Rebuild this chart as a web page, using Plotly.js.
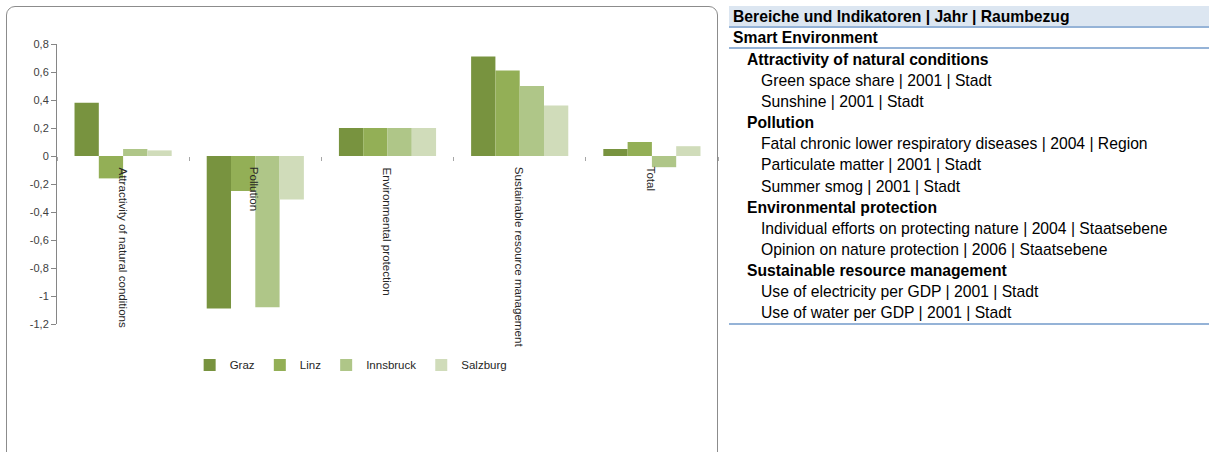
<!DOCTYPE html>
<html>
<head>
<meta charset="utf-8">
<script src="https://cdn.plot.ly/plotly-3.0.1.min.js"></script>
<style>
  html, body { margin: 0; padding: 0; background: #ffffff; }
  #wrap { position: relative; width: 1209px; height: 452px; overflow: hidden; }
  #frame { position: absolute; left: 6px; top: 6px; width: 712px; height: 470px;
           border: 1px solid #8c8c8c; border-radius: 9px; box-sizing: border-box; }
  #chart { position: absolute; left: 0; top: 0; width: 1209px; height: 452px; }
  #table { position: absolute; left: 729px; top: 6px; width: 480px;
           font-family: "Liberation Sans", Arial, sans-serif; font-size: 15.7px; color: #000; }
  .row { height: 21.1px; line-height: 21.1px; white-space: nowrap; }
  .hdr { height: 20px; line-height: 21px; background: #dce6f1; font-weight: bold; padding-left: 4px;
         border-bottom: 2px solid #95b3d7; white-space: nowrap; }
  .top { height: 19px; line-height: 20px; font-weight: bold; padding-left: 4px; border-bottom: 2px solid #95b3d7; }
  .l1 { font-weight: bold; padding-left: 18px; }
  .l2 { padding-left: 32px; }
  .end { border-top: 2px solid #95b3d7; height: 0; }
</style>
</head>
<body>
<div id="wrap">
  <div id="frame"></div>
  <div id="chart"></div>
  <div id="table"></div>
</div>
<script>
// ---- chart data ----
const categories = ["Attractivity of natural conditions", "Pollution", "Environmental protection",
                    "Sustainable resource management", "Total"];
const cities = ["Graz", "Linz", "Innsbruck", "Salzburg"];
const graz      = [0.38, -1.09, 0.20, 0.71, 0.05];
const linz      = [-0.16, -0.25, 0.20, 0.61, 0.10];
const innsbruck = [0.05, -1.08, 0.20, 0.50, -0.08];
const salzburg  = [0.04, -0.31, 0.20, 0.36, 0.07];
const yTickVals  = [0.8, 0.6, 0.4, 0.2, 0, -0.2, -0.4, -0.6, -0.8, -1, -1.2];
const yTickTexts = ["0,8", "0,6", "0,4", "0,2", "0", "-0,2", "-0,4", "-0,6", "-0,8", "-1", "-1,2"];

// ---- table data ----
const tableHeader = "Bereiche und Indikatoren | Jahr | Raumbezug";
const tableTop = "Smart Environment";
const tableGroups = ["Attractivity of natural conditions", "Pollution", "Environmental protection", "Sustainable resource management"];
const tableItems = [
  ["Green space share | 2001 | Stadt", "Sunshine | 2001 | Stadt"],
  ["Fatal chronic lower respiratory diseases | 2004 | Region", "Particulate matter | 2001 | Stadt", "Summer smog | 2001 | Stadt"],
  ["Individual efforts on protecting nature | 2004 | Staatsebene", "Opinion on nature protection | 2006 | Staatsebene"],
  ["Use of electricity per GDP | 2001 | Stadt", "Use of water per GDP | 2001 | Stadt"]
];

const colors = ["#78933f", "#93af56", "#afc688", "#d0dcba"];
const series = [graz, linz, innsbruck, salzburg];

const traces = series.map((vals, i) => ({
  type: "bar",
  name: cities[i],
  x: categories,
  y: vals,
  marker: { color: colors[i], line: { width: 0 } },
  hoverinfo: "x+y+name"
}));

const annotations = categories.map(c => ({
  x: c, y: 0, xref: "x", yref: "y",
  text: c, showarrow: false, textangle: 90,
  xanchor: "center", yanchor: "top", yshift: -9,
  font: { family: "Liberation Sans, Arial, sans-serif", size: 11.6, color: "#262626" }
}));

const layout = {
  width: 1209, height: 452,
  margin: { l: 57, r: 491, t: 44, b: 128, pad: 0 },
  paper_bgcolor: "rgba(0,0,0,0)",
  plot_bgcolor: "rgba(0,0,0,0)",
  barmode: "group",
  bargap: 0.265,
  bargroupgap: 0,
  showlegend: true,
  legend: {
    orientation: "h", x: 0.445, xanchor: "center", y: -0.146, yanchor: "middle",
    font: { family: "Liberation Sans, Arial, sans-serif", size: 11.5, color: "#262626" },
    itemwidth: 30, tracegroupgap: 0, bgcolor: "rgba(0,0,0,0)"
  },
  xaxis: {
    type: "category",
    anchor: "free", position: 0.6,
    showline: false, zeroline: false, showgrid: false,
    showticklabels: false,
    ticks: "outside", tickson: "boundaries", ticklen: 4, tickcolor: "#a6a6a6", tickwidth: 1
  },
  yaxis: {
    range: [-1.2, 0.8],
    tickmode: "array", tickvals: yTickVals, ticktext: yTickTexts,
    showline: true, linecolor: "#868686", linewidth: 1,
    ticks: "outside", ticklen: 5, tickcolor: "#868686",
    showgrid: false, zeroline: false,
    tickfont: { family: "Liberation Sans, Arial, sans-serif", size: 11, color: "#404040" }
  },
  annotations: annotations
};

Plotly.newPlot("chart", traces, layout, { displayModeBar: false, staticPlot: true });

// ---- build table ----
const t = document.getElementById("table");
function add(cls, txt) { const d = document.createElement("div"); d.className = cls; d.textContent = txt; t.appendChild(d); }
add("hdr", tableHeader);
add("top", tableTop);
tableGroups.forEach((g, i) => {
  add("row l1", g);
  tableItems[i].forEach(it => add("row l2", it));
});
add("end", "");
</script>
</body>
</html>
